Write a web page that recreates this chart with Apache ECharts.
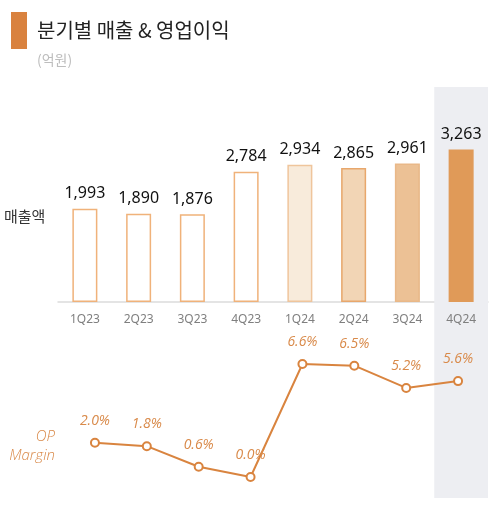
<!DOCTYPE html>
<html><head><meta charset="utf-8">
<script src="https://cdn.jsdelivr.net/npm/echarts@6/dist/echarts.min.js"></script>
<style>html,body{margin:0;padding:0;background:#fff}#c{width:498px;height:514px}</style>
</head><body><div id="c"></div>
<script>
const categories = ['1Q23','2Q23','3Q23','4Q23','1Q24','2Q24','3Q24','4Q24'];
const revenue = [1993, 1890, 1876, 2784, 2934, 2865, 2961, 3263];
const opMargin = [2.0, 1.8, 0.6, 0.0, 6.6, 6.5, 5.2, 5.6];
const highlight = [null, null, null, null, null, null, null, 1];
const barFills = ['#ffffff','#ffffff','#ffffff','#ffffff','#f8ebdb','#f2d5b5','#ecc195','#e09a58'];
const barBorders = ['#f0b27a','#f0b27a','#f0b27a','#f0b27a','#efc59c','#e8a76c','#e9b888','#e09a58'];

const FONT = '"Noto Sans", "Noto Sans CJK KR", sans-serif';
const chart = echarts.init(document.getElementById('c'), null, {renderer:'canvas'});
chart.setOption({
  animation: false,
  textStyle: {fontFamily: FONT},
  grid: [
    {left: 58, right: 10, top: 115, bottom: 212},
    {left: 69, right: 14, top: 340, bottom: 37},
    {left: 58, right: 10, top: 87, bottom: 16}
  ],
  xAxis: [
    {type:'category', gridIndex:0, data: categories,
     axisLine:{lineStyle:{color:'#dcdcdc', width:1.5}}, axisTick:{show:false},
     axisLabel:{color:'#7f7f7f', fontSize:12, margin:12, fontFamily: FONT}},
    {type:'category', gridIndex:1, data: categories, show:false},
    {type:'category', gridIndex:2, data: categories, show:false}
  ],
  yAxis: [
    {type:'value', gridIndex:0, min:0, max:4000, show:false},
    {type:'value', gridIndex:1, min:0, max:8, show:false},
    {type:'value', gridIndex:2, min:0, max:1, show:false}
  ],
  graphic: [
    {type:'rect', left:11, top:12, shape:{width:16, height:37}, style:{fill:'#d9823f'}},
    {type:'text', x:37, y:20, style:{text:'분기별 매출 & 영업이익', font:'20px "Noto Sans CJK KR", sans-serif', fill:'#222'}},
    {type:'text', x:37, y:53, style:{text:'(억원)', font:'14px "Noto Sans CJK KR", sans-serif', fill:'#bdbdbd'}},
    {type:'text', x:4, y:209, style:{text:'매출액', font:'15px "Noto Sans CJK KR", sans-serif', fill:'#333'}},
    {type:'text', x:55, y:429, style:{text:'OP', align:'right', font:'italic 300 15px "Open Sans", sans-serif', fill:'#d98a4a'}},
    {type:'text', x:55, y:448, style:{text:'Margin', align:'right', font:'italic 300 15px "Open Sans", sans-serif', fill:'#d98a4a'}}
  ],
  series: [
    {type:'bar', xAxisIndex:2, yAxisIndex:2, data: highlight, barWidth:'100%', silent:true, z:0,
     itemStyle:{color:'#edeef2'}},
    {type:'bar', xAxisIndex:0, yAxisIndex:0, barWidth:25, z:2,
     data: revenue.map((v,i)=>({value:v, itemStyle:{color:barFills[i], borderColor:barBorders[i], borderWidth:1.5}})),
     label:{show:true, position:'top', distance:7, color:'#111', fontSize:16, fontFamily: FONT,
       formatter: p => p.value.toLocaleString('en-US')}},
    {type:'line', xAxisIndex:1, yAxisIndex:1, data: opMargin, z:3,
     symbol:'emptyCircle', symbolSize:8,
     lineStyle:{color:'#d9843f', width:2},
     itemStyle:{color:'#d9843f', borderWidth:2},
     label:{show:true, position:'top', distance:10, color:'#d98a4a', fontSize:14, fontStyle:'italic', fontFamily:'"Open Sans", sans-serif',
       formatter: p => p.value.toFixed(1) + '%'}}
  ]
});
</script></body></html>
